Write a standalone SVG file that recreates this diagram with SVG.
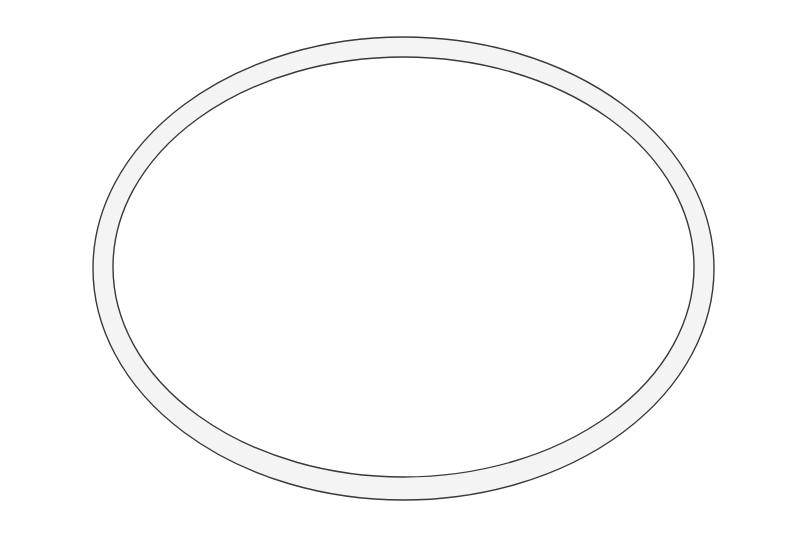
<svg xmlns="http://www.w3.org/2000/svg" width="800" height="533" viewBox="0 0 800 533">
<style>.edge{fill:none;stroke:#3a3a3a;stroke-width:1.4}</style>
<rect width="800" height="533" fill="#ffffff"/>
<g id="ring">
<path d="M93,268.5 a310.5,231.5 0 1,0 621,0 a310.5,231.5 0 1,0 -621,0 Z M113,267 a290.5,210 0 1,0 581,0 a290.5,210 0 1,0 -581,0 Z" fill="#f4f4f4" fill-rule="evenodd"/>
<ellipse class="edge" cx="403.5" cy="268.5" rx="310.5" ry="231.5"/>
<ellipse class="edge" cx="403.5" cy="267" rx="290.5" ry="210"/>
</g>
</svg>
